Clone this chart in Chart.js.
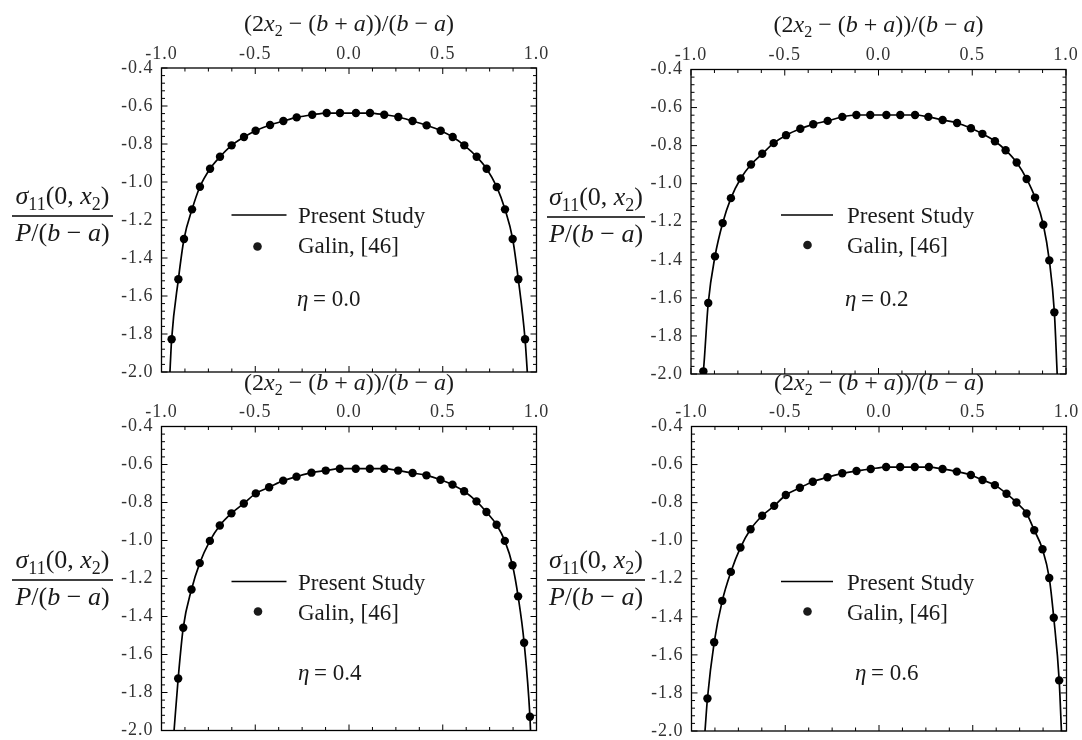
<!DOCTYPE html>
<html>
<head>
<meta charset="utf-8">
<script src="https://cdn.jsdelivr.net/npm/chart.js@4.4.0/dist/chart.umd.min.js"></script>
<style>
  body { margin: 0; background: #fff; }
  canvas { position: absolute; left: 0; top: 0; }
</style>
</head>
<body>
<canvas id="c0" width="1082" height="740"></canvas>
<canvas id="c1" width="1082" height="740"></canvas>
<canvas id="c2" width="1082" height="740"></canvas>
<canvas id="c3" width="1082" height="740"></canvas>
<script>
// axis ticks
const xTickValues = [-1.0, -0.5, 0.0, 0.5, 1.0];
const xTickLabels = ['-1.0', '-0.5', '0.0', '0.5', '1.0'];
const yTickValues = [-2.0, -1.8, -1.6, -1.4, -1.2, -1.0, -0.8, -0.6, -0.4];
const yTickLabels = ['-2.0', '-1.8', '-1.6', '-1.4', '-1.2', '-1.0', '-0.8', '-0.6', '-0.4'];
const etaLabels = ['0.0', '0.2', '0.4', '0.6'];

// eta = 0.0
const galin0X = [-0.946, -0.910, -0.880, -0.837, -0.795, -0.741, -0.688, -0.626, -0.560, -0.498, -0.421, -0.350, -0.279, -0.196, -0.119, -0.048,
  0.037, 0.112, 0.188, 0.263, 0.339, 0.414, 0.489, 0.553, 0.615, 0.681, 0.734, 0.788, 0.832, 0.873, 0.903, 0.939];
const galin0Y = [-1.828, -1.512, -1.300, -1.144, -1.025, -0.930, -0.867, -0.807, -0.763, -0.730, -0.700, -0.679, -0.660, -0.646, -0.637, -0.637,
  -0.637, -0.637, -0.646, -0.658, -0.679, -0.702, -0.730, -0.763, -0.807, -0.867, -0.930, -1.026, -1.144, -1.300, -1.512, -1.828];
const curve0X = [-0.955, -0.946, -0.910, -0.880, -0.837, -0.795, -0.741, -0.688, -0.626, -0.560, -0.498, -0.421, -0.350, -0.279, -0.196, -0.119, -0.048,
  0.037, 0.112, 0.188, 0.263, 0.339, 0.414, 0.489, 0.553, 0.615, 0.681, 0.734, 0.788, 0.832, 0.873, 0.903, 0.939, 0.951];
const curve0Y = [-2.0, -1.828, -1.512, -1.300, -1.144, -1.025, -0.930, -0.867, -0.807, -0.763, -0.730, -0.700, -0.679, -0.660, -0.646, -0.637, -0.637,
  -0.637, -0.637, -0.646, -0.658, -0.679, -0.702, -0.730, -0.763, -0.807, -0.867, -0.930, -1.026, -1.144, -1.300, -1.512, -1.828, -2.0];

// eta = 0.2
const galin1X = [-0.934, -0.908, -0.872, -0.831, -0.787, -0.735, -0.680, -0.620, -0.559, -0.493, -0.417, -0.348, -0.271, -0.193, -0.118, -0.044,
  0.042, 0.116, 0.195, 0.266, 0.342, 0.419, 0.493, 0.554, 0.621, 0.678, 0.737, 0.790, 0.835, 0.879, 0.911, 0.938];
const galin1Y = [-1.986, -1.627, -1.382, -1.207, -1.076, -0.973, -0.899, -0.843, -0.787, -0.745, -0.711, -0.688, -0.670, -0.649, -0.639, -0.639,
  -0.639, -0.639, -0.639, -0.649, -0.665, -0.681, -0.709, -0.738, -0.777, -0.824, -0.889, -0.975, -1.073, -1.216, -1.403, -1.676];
const curve1X = [-0.936, -0.934, -0.908, -0.872, -0.831, -0.787, -0.735, -0.680, -0.620, -0.559, -0.493, -0.417, -0.348, -0.271, -0.193, -0.118, -0.044,
  0.042, 0.116, 0.195, 0.266, 0.342, 0.419, 0.493, 0.554, 0.621, 0.678, 0.737, 0.790, 0.835, 0.879, 0.911, 0.938, 0.953];
const curve1Y = [-2.0, -1.986, -1.627, -1.382, -1.207, -1.076, -0.973, -0.899, -0.843, -0.787, -0.745, -0.711, -0.688, -0.670, -0.649, -0.639, -0.639,
  -0.639, -0.639, -0.639, -0.649, -0.665, -0.681, -0.709, -0.738, -0.777, -0.824, -0.889, -0.975, -1.073, -1.216, -1.403, -1.676, -2.0];

// eta = 0.4
const galin2X = [-0.911, -0.884, -0.840, -0.796, -0.742, -0.689, -0.627, -0.561, -0.497, -0.426, -0.351, -0.280, -0.200, -0.124, -0.049,
  0.036, 0.111, 0.188, 0.262, 0.339, 0.413, 0.488, 0.552, 0.614, 0.680, 0.733, 0.787, 0.831, 0.872, 0.902, 0.934, 0.965];
const galin2Y = [-1.726, -1.459, -1.258, -1.119, -1.002, -0.921, -0.857, -0.805, -0.752, -0.720, -0.685, -0.664, -0.643, -0.632, -0.622,
  -0.622, -0.622, -0.622, -0.632, -0.645, -0.657, -0.680, -0.706, -0.741, -0.794, -0.850, -0.917, -1.002, -1.130, -1.294, -1.538, -1.928];
const curve2X = [-0.933, -0.911, -0.884, -0.840, -0.796, -0.742, -0.689, -0.627, -0.561, -0.497, -0.426, -0.351, -0.280, -0.200, -0.124, -0.049,
  0.036, 0.111, 0.188, 0.262, 0.339, 0.413, 0.488, 0.552, 0.614, 0.680, 0.733, 0.787, 0.831, 0.872, 0.902, 0.934, 0.965, 0.968];
const curve2Y = [-2.0, -1.726, -1.459, -1.258, -1.119, -1.002, -0.921, -0.857, -0.805, -0.752, -0.720, -0.685, -0.664, -0.643, -0.632, -0.622,
  -0.622, -0.622, -0.622, -0.632, -0.645, -0.657, -0.680, -0.706, -0.741, -0.794, -0.850, -0.917, -1.002, -1.130, -1.294, -1.538, -1.928, -2.0];

// eta = 0.6
const galin3X = [-0.915, -0.879, -0.836, -0.790, -0.739, -0.685, -0.623, -0.559, -0.497, -0.422, -0.353, -0.275, -0.196, -0.120, -0.044,
  0.038, 0.113, 0.191, 0.266, 0.339, 0.415, 0.490, 0.552, 0.618, 0.680, 0.733, 0.787, 0.828, 0.872, 0.908, 0.932, 0.961];
const galin3Y = [-1.829, -1.534, -1.316, -1.164, -1.036, -0.940, -0.869, -0.817, -0.760, -0.722, -0.690, -0.667, -0.646, -0.634, -0.623,
  -0.613, -0.613, -0.613, -0.613, -0.623, -0.637, -0.655, -0.681, -0.708, -0.753, -0.799, -0.857, -0.945, -1.045, -1.196, -1.405, -1.734];
const curve3X = [-0.928, -0.915, -0.879, -0.836, -0.790, -0.739, -0.685, -0.623, -0.559, -0.497, -0.422, -0.353, -0.275, -0.196, -0.120, -0.044,
  0.038, 0.113, 0.191, 0.266, 0.339, 0.415, 0.490, 0.552, 0.618, 0.680, 0.733, 0.787, 0.828, 0.872, 0.908, 0.932, 0.961, 0.973];
const curve3Y = [-2.0, -1.829, -1.534, -1.316, -1.164, -1.036, -0.940, -0.869, -0.817, -0.760, -0.722, -0.690, -0.667, -0.646, -0.634, -0.623,
  -0.613, -0.613, -0.613, -0.613, -0.623, -0.637, -0.655, -0.681, -0.708, -0.753, -0.799, -0.857, -0.945, -1.045, -1.196, -1.405, -1.734, -2.0];

const W = 1082, H = 740;
const SERIF = '"Liberation Serif", "Times New Roman", serif';
const INK = '#1a1a1a';

// where each frame and its annotations sit on the page
const layouts = [
  { area: { l: 161.5, t: 68, r: 536.5, b: 372 }, titleX: 349, titleY: 31, labX: 62.5, labBar: 216, labW: 101,
    leg: { x1: 231.5, x2: 286.5, ly: 215, tx: 298, t1: 223, mx: 257.5, my: 246.5, t2: 253, ex: 297, ey: 306 } },
  { area: { l: 691, t: 69.5, r: 1066, b: 374 }, titleX: 878.5, titleY: 32, labX: 596, labBar: 217, labW: 98,
    leg: { x1: 781, x2: 833, ly: 215, tx: 847, t1: 223, mx: 807.5, my: 245, t2: 253, ex: 845, ey: 306 } },
  { area: { l: 161.5, t: 426.5, r: 536.5, b: 730.5 }, titleX: 349, titleY: 389.5, labX: 62.5, labBar: 580, labW: 101,
    leg: { x1: 231.5, x2: 286.5, ly: 581.5, tx: 298, t1: 590, mx: 258, my: 611.5, t2: 620, ex: 298, ey: 680 } },
  { area: { l: 691.5, t: 426.5, r: 1066.5, b: 731 }, titleX: 879, titleY: 389.5, labX: 596, labBar: 580, labW: 98,
    leg: { x1: 781, x2: 833, ly: 581.5, tx: 847, t1: 590, mx: 807.5, my: 611.5, t2: 620, ex: 855, ey: 680 } }
];

const series = [
  [galin0X, galin0Y, curve0X, curve0Y],
  [galin1X, galin1Y, curve1X, curve1Y],
  [galin2X, galin2Y, curve2X, curve2Y],
  [galin3X, galin3Y, curve3X, curve3Y]
];

// mixed roman / italic / subscript text
function partFont(style, size) {
  const s = style.includes('s') ? Math.round(size * 0.68) : size;
  return (style.includes('i') ? 'italic ' : '') + s + 'px ' + SERIF;
}
function richWidth(ctx, parts, size) {
  let w = 0;
  parts.forEach(([t, st]) => { ctx.font = partFont(st, size); w += ctx.measureText(t).width; });
  return w;
}
function drawRich(ctx, parts, x, y, size, align) {
  let cx = align === 'center' ? x - richWidth(ctx, parts, size) / 2 : x;
  ctx.textAlign = 'left';
  ctx.textBaseline = 'alphabetic';
  parts.forEach(([t, st]) => {
    ctx.font = partFont(st, size);
    const dy = st.includes('s') ? size * 0.22 : 0;
    ctx.fillText(t, cx, y + dy);
    cx += ctx.measureText(t).width;
  });
}

const titleParts = [['(2', 'r'], ['x', 'i'], ['2', 's'], [' \u2212 (', 'r'], ['b', 'i'], [' + ', 'r'], ['a', 'i'],
  ['))/(', 'r'], ['b', 'i'], [' \u2212 ', 'r'], ['a', 'i'], [')', 'r']];
const numParts = [['\u03c3', 'i'], ['11', 's'], ['(0, ', 'r'], ['x', 'i'], ['2', 's'], [')', 'r']];
const denParts = [['P', 'i'], ['/(', 'r'], ['b', 'i'], [' \u2212 ', 'r'], ['a', 'i'], [')', 'r']];

const framePlugin = {
  id: 'frame',
  beforeDraw(chart) {
    chart.ctx.letterSpacing = '1px';
  },
  afterDraw(chart, args, opts) {
    const { ctx, chartArea: a, scales: { x, y } } = chart;
    const L = opts.layout;
    ctx.save();
    ctx.letterSpacing = '0px';
    ctx.strokeStyle = '#000';
    ctx.lineWidth = 1.3;
    ctx.strokeRect(a.left, a.top, a.right - a.left, a.bottom - a.top);

    // inward ticks on all four sides
    ctx.lineWidth = 1;
    ctx.beginPath();
    for (let i = 0; i <= 16; i++) {
      const px = x.getPixelForValue(-1 + i * 0.125);
      const len = i % 4 === 0 ? 6 : 3.5;
      ctx.moveTo(px, a.top); ctx.lineTo(px, a.top + len);
      ctx.moveTo(px, a.bottom); ctx.lineTo(px, a.bottom - len);
    }
    for (let i = 0; i <= 40; i++) {
      const py = y.getPixelForValue(-2 + i * 0.04);
      const len = i % 5 === 0 ? 6 : 3.5;
      ctx.moveTo(a.left, py); ctx.lineTo(a.left + len, py);
      ctx.moveTo(a.right, py); ctx.lineTo(a.right - len, py);
    }
    ctx.stroke();

    ctx.fillStyle = INK;
    // axis title above the frame
    drawRich(ctx, titleParts, L.titleX, L.titleY, 24, 'center');

    // stress ratio label as a fraction
    drawRich(ctx, numParts, L.labX, L.labBar - 12, 26, 'center');
    drawRich(ctx, denParts, L.labX, L.labBar + 25, 26, 'center');
    ctx.lineWidth = 1.4;
    ctx.beginPath();
    ctx.moveTo(L.labX - L.labW / 2, L.labBar);
    ctx.lineTo(L.labX + L.labW / 2, L.labBar);
    ctx.stroke();

    // legend
    const g = L.leg;
    ctx.lineWidth = 1.6;
    ctx.beginPath();
    ctx.moveTo(g.x1, g.ly); ctx.lineTo(g.x2, g.ly);
    ctx.stroke();
    ctx.beginPath();
    ctx.arc(g.mx, g.my, 4.3, 0, Math.PI * 2);
    ctx.fill();
    drawRich(ctx, [['Present Study', 'r']], g.tx, g.t1, 23, 'left');
    drawRich(ctx, [['Galin, [46]', 'r']], g.tx, g.t2, 23, 'left');
    drawRich(ctx, [['\u03b7', 'i'], ['\u2009= ', 'r'], [opts.eta, 'r']], g.ex, g.ey, 23, 'left');
    ctx.restore();
  }
};

function toPoints(xs, ys) {
  return xs.map((v, i) => ({ x: v, y: ys[i] }));
}

layouts.forEach((L, k) => {
  const [gx, gy, cx, cy] = series[k];
  const yAxisW = 40, xAxisH = 30;
  new Chart(document.getElementById('c' + k), {
    type: 'line',
    data: {
      datasets: [
        {
          label: 'Present Study',
          data: toPoints(cx, cy),
          borderColor: '#000',
          borderWidth: 1.7,
          pointRadius: 0,
          fill: false,
          cubicInterpolationMode: 'monotone'
        },
        {
          label: 'Galin, [46]',
          data: toPoints(gx, gy),
          showLine: false,
          pointStyle: 'circle',
          pointRadius: 4.2,
          pointBorderWidth: 0,
          backgroundColor: '#000',
          borderColor: '#000'
        }
      ]
    },
    options: {
      responsive: false,
      animation: false,
      events: [],
      layout: {
        padding: {
          left: L.area.l - yAxisW,
          top: L.area.t - xAxisH,
          right: W - L.area.r,
          bottom: H - L.area.b
        }
      },
      plugins: {
        legend: { display: false },
        tooltip: { enabled: false },
        frame: { layout: L, eta: etaLabels[k] }
      },
      scales: {
        x: {
          type: 'linear',
          position: 'top',
          min: -1,
          max: 1,
          afterFit: s => { s.height = xAxisH; s.paddingLeft = 0; s.paddingRight = 0; },
          afterBuildTicks: s => { s.ticks = xTickValues.map(v => ({ value: v })); },
          grid: { display: false, drawTicks: false },
          border: { display: false },
          ticks: {
            autoSkip: false,
            maxRotation: 0,
            padding: 3,
            color: '#333',
            font: { family: SERIF, size: 18 },
            callback: (v, i) => xTickLabels[i]
          }
        },
        y: {
          type: 'linear',
          min: -2.0,
          max: -0.4,
          afterFit: s => { s.width = yAxisW; s.paddingTop = 0; s.paddingBottom = 0; },
          afterBuildTicks: s => { s.ticks = yTickValues.map(v => ({ value: v })); },
          grid: { display: false, drawTicks: false },
          border: { display: false },
          ticks: {
            autoSkip: false,
            padding: 8,
            color: '#333',
            font: { family: SERIF, size: 18 },
            callback: (v, i) => yTickLabels[i]
          }
        }
      }
    },
    plugins: [framePlugin]
  });
});
</script>
</body>
</html>
